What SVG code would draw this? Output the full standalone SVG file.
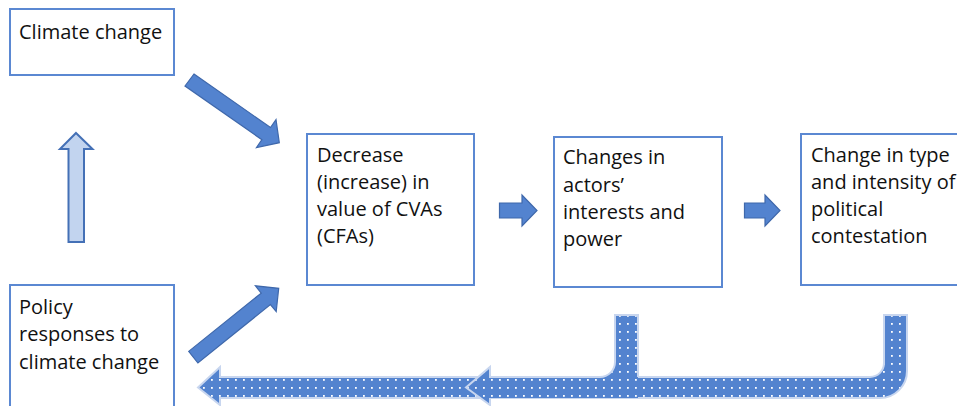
<svg xmlns="http://www.w3.org/2000/svg" width="957" height="406" viewBox="0 0 957 406">
<style>
.box{fill:#ffffff;stroke:#5b88d2;stroke-width:2}
.t{font-family:"Open Sans","Noto Sans","DejaVu Sans",sans-serif;font-size:20px;fill:#111111}
.solid{fill:#5383cf;stroke:#3f68ab;stroke-width:1.2;stroke-linejoin:miter}
.light{fill:#c2d4ef;stroke:#4470b6;stroke-width:2}
.dotted{fill:url(#dots);stroke:#c8d6ef;stroke-width:2;stroke-linejoin:miter}
.dotfill{fill:url(#dots);stroke:none}
.dotedge{fill:none;stroke:#c8d6ef;stroke-width:2;stroke-linejoin:miter}
</style>
<defs>
<pattern id="dots" patternUnits="userSpaceOnUse" width="8" height="8">
<rect width="8" height="8" fill="#5383cf"/>
<rect x="3" y="3" width="1.8" height="1.8" fill="#ffffff"/>
</pattern>
</defs>
<rect width="957" height="406" fill="#ffffff"/>
<g id="connectors">
<polygon id="arrow-up" class="light" points="76,133 92.5,149 84,149 84,242 68.5,242 68.5,149 60,149"/>
<polygon id="arrow-climate-to-decrease" class="solid" points="194,74 270.5,127.5 276,119.7 279.3,142.7 256.5,147.5 261.9,139.7 185,86"/>
<polygon id="arrow-policy-to-decrease" class="solid" points="188.7,351.4 261.2,293.1 255.4,285.8 278.7,288.3 276.2,311.6 270.4,304.5 197.9,363"/>
<polygon id="arrow-decrease-to-actors" class="solid" points="499.5,203 522,203 522,195 537,210.5 522,226 522,218 499.5,218"/>
<polygon id="arrow-actors-to-contestation" class="solid" points="744.5,203 765,203 765,195 780,210.5 765,226 765,218 744.5,218"/>
<path id="feedback-contestation" class="dotted" d="M884,315 L907,315 L907,371 A27,27 0 0 1 880,398 L220,398 L220,405 L198,387.5 L220,367 L220,377 L870,377 A14,14 0 0 0 884,363 Z"/>
<g id="feedback-actors">
<path class="dotfill" d="M615,315 L638,315 L638,378 L638,398 L490,398 L490,405 L466,387.5 L490,367 L490,377 L600,377 A15,15 0 0 0 615,362 Z"/>
<path class="dotedge" d="M638,377 L638,315 L615,315 L615,362 A15,15 0 0 1 600,377 L490,377 L490,367 L466,387.5 L490,405 L490,398"/>
</g>
</g>
<g id="node-climate">
<rect class="box" x="10" y="9" width="164" height="66"/>
<text class="t" x="19" y="39">Climate change</text>
</g>
<g id="node-policy">
<rect class="box" x="10" y="285" width="164" height="140"/>
<text class="t" x="19" y="314">Policy</text>
<text class="t" x="19" y="341">responses to</text>
<text class="t" x="19" y="369">climate change</text>
</g>
<g id="node-decrease">
<rect class="box" x="307" y="134" width="167" height="151"/>
<text class="t" x="317" y="162">Decrease</text>
<text class="t" x="317" y="189">(increase) in</text>
<text class="t" x="317" y="216">value of CVAs</text>
<text class="t" x="317" y="243">(CFAs)</text>
</g>
<g id="node-actors">
<rect class="box" x="554" y="137" width="168" height="150"/>
<text class="t" x="563" y="164">Changes in</text>
<text class="t" x="563" y="192">actors’</text>
<text class="t" x="563" y="219">interests and</text>
<text class="t" x="563" y="246">power</text>
</g>
<g id="node-contestation">
<rect class="box" x="801" y="134" width="170" height="151"/>
<text class="t" x="811" y="162">Change in type</text>
<text class="t" x="811" y="189">and intensity of</text>
<text class="t" x="811" y="216">political</text>
<text class="t" x="811" y="243">contestation</text>
</g>
</svg>
